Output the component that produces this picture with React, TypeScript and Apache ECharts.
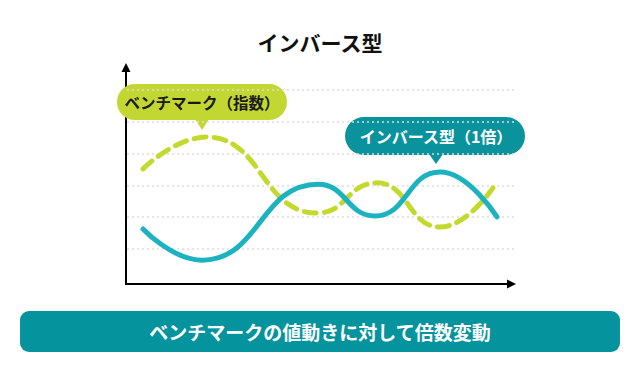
import React, { useEffect, useRef } from "react";
import * as echarts from "echarts";

const titleText = "インバース型";
const bannerText = "ベンチマークの値動きに対して倍数変動";
const benchmarkLabel = "ベンチマーク（指数）";
const inverseLabel = "インバース型（1倍）";

// x positions (arbitrary units 0..388) and y values (grid units 0..5)
const inverseX = [16, 75, 191, 248, 313, 370];
const inverseY = [0.63, -0.35, 2.04, 1.04, 2.42, 1.01];
const benchmarkX = [16, 80, 190, 250, 313, 366];
const benchmarkY = [2.52, 3.52, 1.13, 2.08, 0.69, 1.92];

const FONT = '"Noto Sans CJK JP", "Noto Sans", sans-serif';

export default function App() {
  const ref = useRef<HTMLDivElement>(null);
  useEffect(() => {
    if (!ref.current) return;
    const chart = echarts.init(ref.current, null, { renderer: "svg" });
    const inv = inverseX.map((x, i) => [x, inverseY[i]]);
    const bm = benchmarkX.map((x, i) => [x, benchmarkY[i]]);
    chart.setOption({
      animation: false,
      backgroundColor: "#ffffff",
      grid: { left: 127, right: 125, top: 90, bottom: 123 },
      xAxis: { type: "value", min: 0, max: 388, show: false },
      yAxis: {
        type: "value",
        min: 0,
        max: 5,
        interval: 1,
        axisLine: { show: false },
        axisTick: { show: false },
        axisLabel: { show: false },
        splitLine: { show: true, lineStyle: { color: "#dddddd", width: 1.5, type: [2, 3] } },
      },
      series: [
        {
          type: "line",
          data: bm,
          smooth: 0.5,
          smoothMonotone: "x",
          symbol: "none",
          clip: false,
          z: 2,
          lineStyle: { color: "#c4d92e", width: 5, type: [12, 8], cap: "round" },
        },
        {
          type: "line",
          data: inv,
          smooth: 0.5,
          smoothMonotone: "x",
          symbol: "none",
          clip: false,
          z: 3,
          lineStyle: { color: "#1db2c0", width: 5, cap: "round" },
        },
      ],
      graphic: [
        {
          type: "text",
          x: 320,
          y: 42,
          style: { text: titleText, font: `bold 21px ${FONT}`, fill: "#111", align: "center", verticalAlign: "middle" },
        },
        { type: "line", shape: { x1: 126, y1: 285, x2: 126, y2: 70 }, style: { stroke: "#000", lineWidth: 2 } },
        { type: "polygon", shape: { points: [[126, 63], [121.5, 72], [130.5, 72]] }, style: { fill: "#000" } },
        { type: "line", shape: { x1: 125, y1: 284, x2: 508, y2: 284 }, style: { stroke: "#000", lineWidth: 2 } },
        { type: "polygon", shape: { points: [[516, 284], [507, 279.5], [507, 288.5]] }, style: { fill: "#000" } },
        {
          type: "group",
          z: 10,
          children: [
            { type: "rect", shape: { x: 117, y: 84, width: 170, height: 36, r: 18 }, style: { fill: "#c3d733" } },
            { type: "polygon", shape: { points: [[195, 119], [209, 119], [202, 130]] }, style: { fill: "#c3d733" } },
            {
              type: "text",
              x: 202,
              y: 102,
              style: { text: benchmarkLabel, font: `bold 15.5px ${FONT}`, fill: "#1a1a1a", align: "center", verticalAlign: "middle" },
            },
            { type: "rect", shape: { x: 345, y: 117, width: 180, height: 38, r: 19 }, style: { fill: "#0a939c" } },
            { type: "polygon", shape: { points: [[429, 154], [443, 154], [436, 164]] }, style: { fill: "#0a939c" } },
            {
              type: "text",
              x: 436,
              y: 136,
              style: { text: inverseLabel, font: `bold 16px ${FONT}`, fill: "#ffffff", align: "center", verticalAlign: "middle" },
            },
            { type: "rect", shape: { x: 20, y: 311, width: 600, height: 41, r: 9 }, style: { fill: "#05939d" } },
            {
              type: "text",
              x: 320,
              y: 331.5,
              style: { text: bannerText, font: `bold 19px ${FONT}`, fill: "#ffffff", align: "center", verticalAlign: "middle" },
            },
          ],
        },
      ],
    });
    return () => chart.dispose();
  }, []);
  return <div ref={ref} style={{ position: "absolute", left: 0, top: 0, width: 640, height: 372 }} />;
}
